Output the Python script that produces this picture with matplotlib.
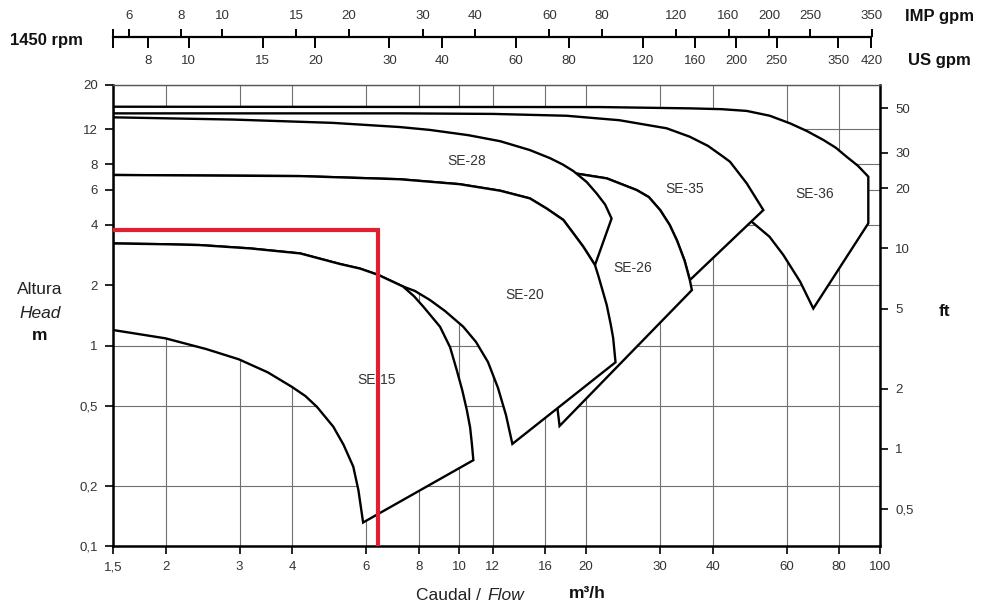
import matplotlib.pyplot as plt

plt.rcParams['font.family'] = ['Liberation Sans', 'DejaVu Sans']

# unit conversions for the secondary scales
M_TO_FT = 3.2808
IMP_GPM = 3.6662   # IMP gpm per m3/h
US_GPM = 4.4029    # US gpm per m3/h

# ---- curves: flow (m3/h), head (m) ----
se36_top_q = [1.5, 21.6, 35.3, 42.0, 48.2, 54.7, 61.1, 67.0, 73.4, 78.5, 83.3, 88.5, 93.0, 93.8]
se36_top_h = [15.53, 15.47, 15.24, 15.1, 14.8, 14.0, 12.83, 11.75, 10.59, 9.7, 8.74, 7.9, 7.09, 6.95]
se36_low_q = [93.8, 69.4, 64.6, 58.9, 54.6, 49.5, 45.0, 30.0, 1.5]
se36_low_h = [4.07, 1.53, 2.08, 2.83, 3.49, 4.15, 6.0, 10.0, 12.0]

se35_top_q = [1.5, 7.22, 12.0, 17.98, 24.0, 31.1, 35.3, 39.0, 42.4, 44.0, 48.2, 52.8]
se35_top_h = [14.39, 14.39, 14.3, 14.0, 13.3, 12.12, 11.0, 9.9, 8.74, 8.25, 6.44, 4.74]
se35_hidden_q = [17.0, 1.5]
se35_hidden_h = [6.0, 6.0]

se26_top_q = [19.0, 22.4, 26.4, 28.2, 30.0, 31.6, 32.9, 34.3, 35.3]
se26_top_h = [7.2, 6.82, 5.96, 5.5, 4.74, 4.0, 3.34, 2.65, 2.12]
se26_low_q = [35.7, 17.3, 17.1, 17.0, 17.0]
se26_low_h = [1.89, 0.397, 0.486, 3.0, 6.0]

se28_top_q = [1.5, 2.9, 5.0, 7.2, 8.5, 10.5, 12.5, 14.7, 16.4, 17.6, 18.65, 20.07, 21.2, 22.2, 23.0]
se28_top_h = [13.75, 13.4, 12.9, 12.3, 11.9, 11.2, 10.45, 9.44, 8.61, 8.0, 7.42, 6.54, 5.73, 5.05, 4.30]

# SE-20 top: the part shared with the SE-28 lower edge, then the steep drop
se20_shared_q = [1.5, 4.18, 7.22, 10.0, 12.49, 14.7, 16.1, 17.66, 18.65, 19.7, 21.0]
se20_shared_h = [7.09, 7.0, 6.75, 6.38, 5.92, 5.42, 4.83, 4.23, 3.63, 3.11, 2.52]
se20_drop_q = [21.4, 21.8, 22.4, 22.9, 23.2, 23.5]
se20_drop_h = [2.22, 1.94, 1.59, 1.27, 1.09, 0.825]
se20_low_q = [13.36, 12.9, 12.35, 11.69, 10.95, 10.21, 9.24, 8.51, 7.84, 7.34]
se20_low_h = [0.323, 0.450, 0.614, 0.827, 1.041, 1.241, 1.486, 1.686, 1.87, 1.97]

# SE-15 top: the part shared with the SE-20 lower edge, then its own tip
se15_shared_q = [1.5, 2.0, 2.41, 3.18, 4.18, 5.2, 5.8, 6.41, 7.34]
se15_shared_h = [3.23, 3.2, 3.17, 3.05, 2.88, 2.55, 2.42, 2.25, 1.97]
se15_tip_q = [7.8, 8.21, 8.99, 9.5, 9.85, 10.15, 10.41, 10.6, 10.70, 10.79]
se15_tip_h = [1.76, 1.56, 1.241, 0.98, 0.755, 0.6, 0.477, 0.39, 0.325, 0.268]
se15_low_q = [5.9, 5.75, 5.59, 5.3, 5.01, 4.58, 4.3, 3.99, 3.5, 2.99, 2.5, 2.0, 1.5]
se15_low_h = [0.131, 0.19, 0.249, 0.32, 0.394, 0.495, 0.56, 0.623, 0.735, 0.853, 0.96, 1.086, 1.195]

# duty point marked in red
duty_q = 6.41
duty_h = 3.77

labels = ['SE-15', 'SE-20', 'SE-26', 'SE-28', 'SE-35', 'SE-36']
label_q = [6.36, 14.3, 25.8, 10.4, 34.4, 70.1]
label_h = [0.673, 1.79, 2.43, 8.3, 6.01, 5.68]

x_ticks = [1.5, 2, 3, 4, 6, 8, 10, 12, 16, 20, 30, 40, 60, 80, 100]
x_tick_labels = ['1,5', '2', '3', '4', '6', '8', '10', '12', '16', '20', '30', '40', '60', '80', '100']
y_ticks = [0.1, 0.2, 0.5, 1, 2, 4, 6, 8, 12, 20]
y_tick_labels = ['0,1', '0,2', '0,5', '1', '2', '4', '6', '8', '12', '20']
ft_ticks = [0.5, 1, 2, 5, 10, 20, 30, 50]
ft_tick_labels = ['0,5', '1', '2', '5', '10', '20', '30', '50']
imp_gpm = [6, 8, 10, 15, 20, 30, 40, 60, 80, 120, 160, 200, 250, 350]
us_gpm = [8, 10, 15, 20, 30, 40, 60, 80, 120, 160, 200, 250, 350, 420]

TXT = '#333333'

fig = plt.figure(figsize=(9.84, 6.04), dpi=100)
L, B, W, H = 113 / 984, 1 - 546 / 604, 767 / 984, (546 - 84.7) / 604
ax = fig.add_axes([L, B, W, H])
ax.set_xscale('log')
ax.set_yscale('log')
ax.set_xlim(1.5, 100)
ax.set_ylim(0.1, 20)
ax.set_xticks(x_ticks, x_tick_labels)
ax.set_yticks(y_ticks, y_tick_labels)
ax.minorticks_off()
ax.grid(True, color='#707070', lw=0.8)
ax.set_axisbelow(True)
ax.tick_params(direction='out', length=6, width=1.2, labelsize=9.5, labelcolor=TXT, pad=5)
for s in ['left', 'bottom', 'right']:
    ax.spines[s].set_linewidth(1.8)
ax.spines['top'].set_linewidth(1.0)
ax.spines['top'].set_color('#555555')
for s in ax.spines.values():
    s.set_zorder(10)

se15_top_q = se15_shared_q + se15_tip_q
se15_top_h = se15_shared_h + se15_tip_h
se20_top_q = se20_shared_q + se20_drop_q
se20_top_h = se20_shared_h + se20_drop_h

# pump envelopes, drawn back to front with white fill
envelopes = [
    (se36_top_q + se36_low_q, se36_top_h + se36_low_h),
    (se35_top_q + se26_top_q[::-1] + se35_hidden_q, se35_top_h + se26_top_h[::-1] + se35_hidden_h),
    (se26_top_q + se26_low_q, se26_top_h + se26_low_h),
    (se28_top_q + se20_shared_q[::-1], se28_top_h + se20_shared_h[::-1]),
    (se20_top_q + se20_low_q + se15_shared_q[::-1], se20_top_h + se20_low_h + se15_shared_h[::-1]),
    (se15_top_q + se15_low_q, se15_top_h + se15_low_h),
]
for z, (q, h) in enumerate(envelopes):
    ax.fill(q, h, facecolor='white', edgecolor='black', lw=1.7, joinstyle='miter', zorder=2 + z)

for name, q, h in zip(labels, label_q, label_h):
    ax.text(q, h, name, fontsize=10, color=TXT, ha='center', va='center', zorder=9)

ax.plot([1.5, duty_q, duty_q], [duty_h, duty_h, 0.1], color='#e01f30', lw=3,
        solid_joinstyle='miter', zorder=12)

# right axis in feet
ax2 = ax.twinx()
ax2.set_yscale('log')
ax2.set_ylim(0.1 * M_TO_FT, 20 * M_TO_FT)
ax2.set_yticks(ft_ticks, ft_tick_labels)
ax2.minorticks_off()
ax2.tick_params(direction='out', length=6, width=1.2, labelsize=9.5, labelcolor=TXT, pad=5)
for s in ax2.spines.values():
    s.set_visible(False)

# top gpm scale
axs = fig.add_axes([L, 1 - 37.3 / 604, W, 1e-4])
axs.set_xscale('log')
axs.set_xlim(1.5, 100)
axs.set_yticks([])
axs.patch.set_visible(False)
for s in ['top', 'left', 'right']:
    axs.spines[s].set_visible(False)
axs.spines['bottom'].set_bounds(1.5, 95.43)
axs.spines['bottom'].set_linewidth(1.6)
axs.set_xticks([1.5] + [g / US_GPM for g in us_gpm], [''] + [str(g) for g in us_gpm])
axs.minorticks_off()
axs.tick_params(axis='x', direction='out', length=8, width=1.4, pad=5, labelsize=9.5, labelcolor=TXT)

axi = axs.twiny()
axi.set_xscale('log')
axi.set_xlim(1.5, 100)
axi.set_xticks([1.5] + [g / IMP_GPM for g in imp_gpm], [''] + [str(g) for g in imp_gpm])
axi.minorticks_off()
for s in axi.spines.values():
    s.set_visible(False)
axi.tick_params(axis='x', direction='out', length=6, width=1.4, pad=5, labelsize=9.5, labelcolor=TXT)

# labels
fig.text(10 / 984, 1 - 40 / 604, '1450 rpm', fontsize=12, fontweight='bold', va='center', color='#111111')
fig.text(905 / 984, 1 - 17 / 604, 'IMP gpm', fontsize=12, fontweight='bold', va='center', color='#111111')
fig.text(908 / 984, 1 - 61 / 604, 'US gpm', fontsize=12, fontweight='bold', va='center', color='#111111')
fig.text(40 / 984, 1 - 290 / 604, 'Altura', fontsize=12.5, ha='center', va='center', color='#222222')
fig.text(40 / 984, 1 - 313 / 604, 'Head', fontsize=12.5, style='italic', ha='center', va='center', color='#222222')
fig.text(40 / 984, 1 - 336 / 604, 'm', fontsize=12.5, fontweight='bold', ha='center', va='center', color='#111111')
fig.text(945 / 984, 1 - 312 / 604, 'ft', fontsize=12.5, fontweight='bold', ha='center', va='center', color='#111111')
fig.text(486 / 984, 1 - 596 / 604, 'Caudal / ', fontsize=12.5, ha='right', va='center', color='#222222')
fig.text(487 / 984, 1 - 596 / 604, 'Flow', fontsize=12.5, style='italic', ha='left', va='center', color='#222222')
fig.text(587 / 984, 1 - 594 / 604, 'm³/h', fontsize=12.5, fontweight='bold', ha='center', va='center', color='#111111')

fig.savefig('out.png', dpi=100)
